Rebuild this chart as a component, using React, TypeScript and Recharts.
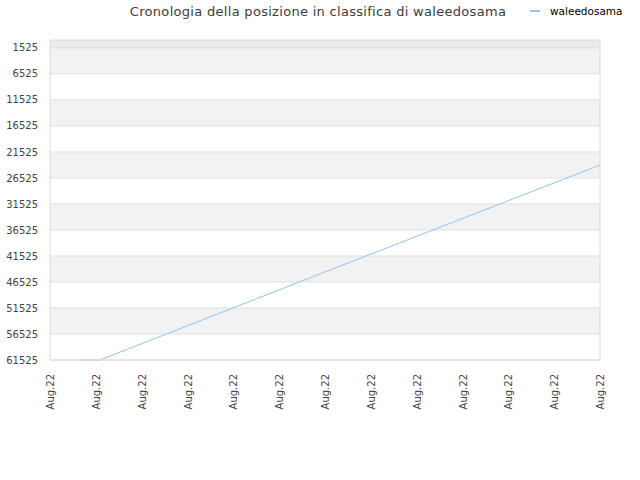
import React from "react";
import {
  Line,
  LineChart,
  ReferenceArea,
  ReferenceLine,
  XAxis,
  YAxis,
} from "recharts";

const TITLE = "Cronologia della posizione in classifica di waleedosama";
const SERIES_NAME = "waleedosama";
const LINE_COLOR = "#94c4f2";

// x positions in tick units (13 ticks, all labelled "Aug.22")
const xTicks = [0, 1, 2, 3, 4, 5, 6, 7, 8, 9, 10, 11, 12];
const xTickLabels = [
  "Aug.22", "Aug.22", "Aug.22", "Aug.22", "Aug.22", "Aug.22", "Aug.22",
  "Aug.22", "Aug.22", "Aug.22", "Aug.22", "Aug.22", "Aug.22",
];
const yTicks = [
  1525, 6525, 11525, 16525, 21525, 26525, 31525, 36525, 41525, 46525, 51525,
  56525, 61525,
];

// ranking history
const pointX = [0.66, 1.09, 6, 12];
const pointRank = [61525, 61525, 44600, 24050];

const data = pointX.map((x, i) => ({ x, rank: pointRank[i] }));

const XTick = (props: any) => {
  const { x, y, payload } = props;
  return (
    <text
      x={0}
      y={0}
      transform={`translate(${x + 4},${y + 6}) rotate(-90)`}
      textAnchor="end"
      fontSize={10}
      fill="#444"
      fontFamily="DejaVu Sans"
    >
      {xTickLabels[payload.index] ?? payload.value}
    </text>
  );
};

const LegendBox = () => (
  <div
    style={{
      position: "absolute",
      left: 530,
      top: 5,
      display: "flex",
      alignItems: "center",
      fontFamily: "DejaVu Sans",
      fontSize: 10.5,
      color: "#000",
    }}
  >
    <span
      style={{
        display: "inline-block",
        width: 10,
        height: 2,
        background: LINE_COLOR,
        marginRight: 10,
      }}
    />
    {SERIES_NAME}
  </div>
);

export default function App() {
  const bands = [0, ...yTicks];
  return (
    <div
      style={{
        position: "absolute",
        left: 0,
        top: 0,
        width: 640,
        height: 480,
        background: "#fff",
        fontFamily: "DejaVu Sans",
      }}
    >
      <div
        style={{
          position: "absolute",
          left: 0,
          width: 636,
          top: 4,
          textAlign: "center",
          fontSize: 13,
          color: "#3c3c3c",
          letterSpacing: 0.3,
        }}
      >
        {TITLE}
      </div>
      <LegendBox />
      <LineChart
        width={640}
        height={480}
        data={data}
        margin={{ top: 40, right: 40, bottom: 0, left: 0 }}
      >
        {bands.slice(0, -1).map((b, i) => (
          <ReferenceArea
            key={`band-${b}`}
            y1={b}
            y2={bands[i + 1]}
            fill={i === 0 ? "#ebebeb" : i % 2 === 1 ? "#f2f2f2" : "#ffffff"}
            fillOpacity={1}
            stroke="none"
            ifOverflow="hidden"
          />
        ))}
        {yTicks.map((t) => (
          <ReferenceLine key={`grid-${t}`} y={t} stroke="#e0e0e0" />
        ))}
        <ReferenceLine y={0} stroke="#dcdcdc" />
        <ReferenceLine x={12} stroke="#dcdcdc" />
        <XAxis
          dataKey="x"
          type="number"
          domain={[0, 12]}
          ticks={xTicks}
          interval={0}
          tick={<XTick />}
          tickLine={false}
          axisLine={{ stroke: "#dcdcdc" }}
          height={120}
        />
        <YAxis
          reversed
          type="number"
          domain={[0, 61525]}
          ticks={yTicks}
          interval={0}
          width={50}
          tickLine={false}
          axisLine={{ stroke: "#dcdcdc" }}
          tick={{ fontSize: 10, fill: "#444", fontFamily: "DejaVu Sans" }}
          tickMargin={6}
        />
        <Line
          type="linear"
          dataKey="rank"
          stroke={LINE_COLOR}
          strokeWidth={1}
          dot={false}
          isAnimationActive={false}
        />
      </LineChart>
    </div>
  );
}
